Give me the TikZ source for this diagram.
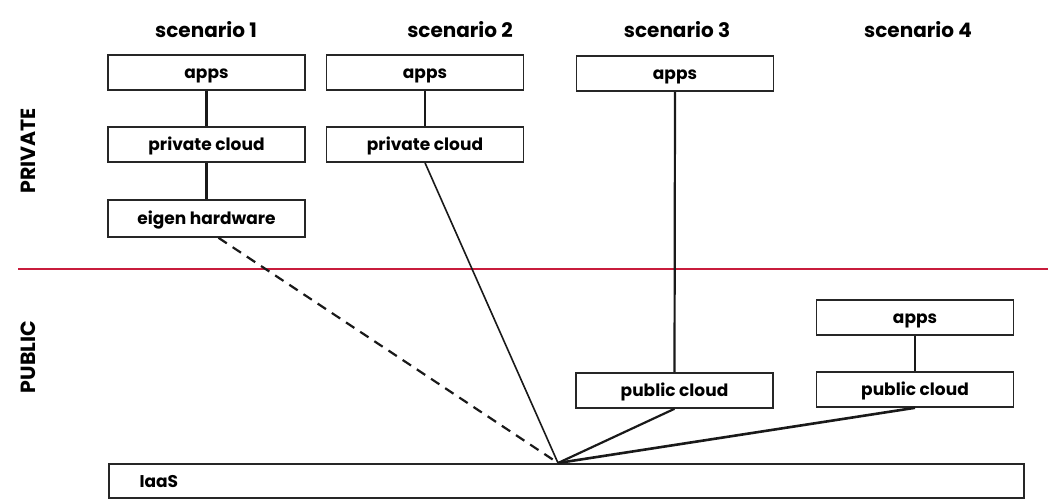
\documentclass[tikz,border=0pt]{standalone}
\usepackage{fontspec}
\setmainfont{Poppins}
\usetikzlibrary{calc}
\definecolor{divred}{RGB}{200,28,60}
\tikzset{
  box/.style={draw=black!85, line width=1.6pt, minimum width=197pt, minimum height=35pt, inner sep=0pt, text height=2.5ex, text depth=0.3ex, font=\bfseries\fontsize{17}{19}\selectfont},
  conn/.style={draw=black!90, line width=2.2pt},
  title/.style={font=\bfseries\fontsize{20}{22}\selectfont},
  side/.style={font=\bfseries\fontsize{20.5}{22}\selectfont, rotate=90}
}
\begin{document}
\begin{tikzpicture}[x=1pt,y=-1pt]
\useasboundingbox (0,0) rectangle (1048,498);
% titles
\node[title] (t1) at (206,30) {scenario 1};
\node[title] (t2) at (460,30) {scenario 2};
\node[title] (t3) at (677,30) {scenario 3};
\node[title] (t4) at (918,30) {scenario 4};
\node[side] (priv) at (28,151) {PRIVATE};
\node[side] (pub) at (28,357) {PUBLIC};
% divider
\coordinate (dl) at (18,269);
\coordinate (dr) at (1048,269);
\draw[divred, line width=2.8pt] (dl) -- (dr);
% boxes
\node[box] (s1apps) at (206.5,72.5) {apps};
\node[box] (s1priv) at (206.5,144.5) {private cloud};
\node[box, minimum height=37pt] (s1hw) at (206.5,218.5) {eigen hardware};
\node[box] (s2apps) at (425,72.5) {apps};
\node[box] (s2priv) at (425,144.5) {private cloud};
\node[box] (s3apps) at (675,73.5) {apps};
\node[box] (s3pub) at (674.5,390.5) {public cloud};
\node[box] (s4apps) at (915,317.5) {apps};
\node[box] (s4pub) at (915,389.5) {public cloud};
\node[box, minimum width=915pt, minimum height=34pt, anchor=north west] (iaas) at (108,463) {};
\node[font=\bfseries\fontsize{17}{19}\selectfont, anchor=west, text height=2.5ex, text depth=0.3ex] (iaastxt) at (136,481) {IaaS};
\coordinate (hub) at (558,463);
\coordinate (hwout) at ($(s1hw.south)+(12,0)$);
% connectors
\draw[conn] (s1apps) -- (s1priv);
\draw[conn] (s1priv) -- (s1hw);
\draw[conn] (s2apps) -- (s2priv);
\draw[conn] (s3apps.south) -- (s3pub.north);
\draw[conn] (s4apps) -- (s4pub);
\draw[conn, dash pattern=on 10pt off 7pt] (hwout) -- (hub);
\draw[conn, line width=1.6pt] (s2priv.south) -- (hub);
\draw[conn] (s3pub.south) -- (hub);
\draw[conn, line width=2.6pt] (s4pub.south) -- (hub);
\end{tikzpicture}
\end{document}
